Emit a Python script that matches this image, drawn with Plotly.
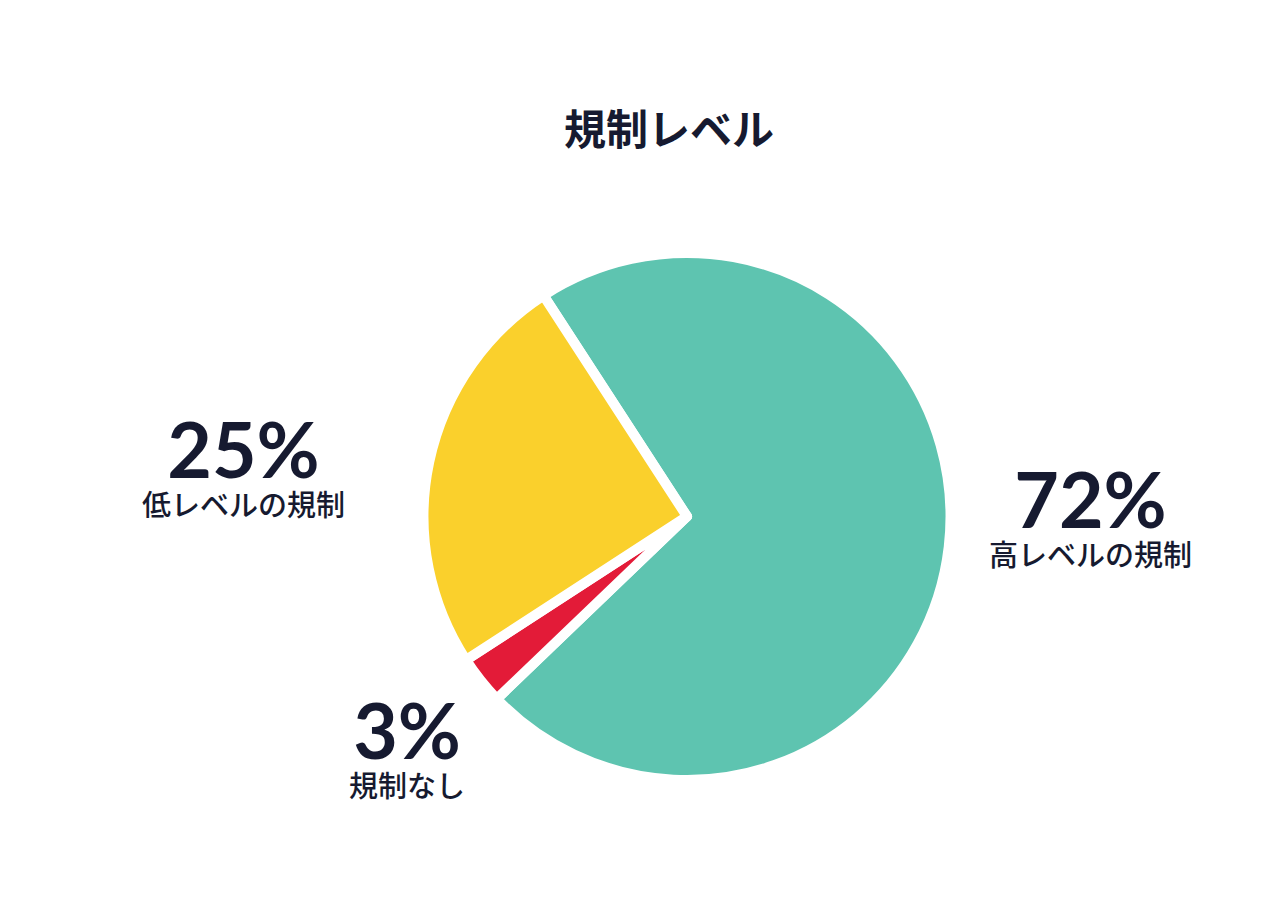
import plotly.graph_objects as go

# Data
labels = ["高レベルの規制", "規制なし", "低レベルの規制"]
values = [72, 3, 25]
colors = ["#5EC4B0", "#E31B38", "#FAD02C"]
title_text = "規制レベル"

W, H = 1280, 913
OFF = 8  # page body margin in the browser
TEXT = "#161a30"


def px(x, y):
    return (x - OFF) / W, 1 - (y - OFF) / H


fig = go.Figure()
cx, cy, r = 687, 516.5, 263.5
x0, y0 = px(cx - r, cy + r)
x1, y1 = px(cx + r, cy - r)
fig.add_trace(go.Pie(
    labels=labels,
    values=values,
    sort=False,
    direction="clockwise",
    rotation=-33,
    marker=dict(colors=colors, line=dict(color="white", width=10)),
    textinfo="none",
    hoverinfo="skip",
    showlegend=False,
    domain=dict(x=[x0, x1], y=[y0, y1]),
))

# label placement (pixel centres), one per slice in data order
label_pos = [(1090, 512), (407, 743), (243, 462)]

for lab, val, (lx, ly) in zip(labels, values, label_pos):
    ax, ay = px(lx, ly)
    fig.add_annotation(
        text=f"<span style='font-size:77px'><b>{val}%</b></span><br>{lab}",
        x=ax, y=ay, xref="paper", yref="paper",
        showarrow=False, xanchor="center", yanchor="middle", align="center",
        font=dict(family="Lato, Noto Sans CJK JP, sans-serif", size=29, color=TEXT, weight=500),
    )

tx, ty = px(669, 126)
fig.add_annotation(
    text=f"<b>{title_text}</b>", x=tx, y=ty, xref="paper", yref="paper",
    showarrow=False, xanchor="center", yanchor="middle",
    font=dict(family="Noto Sans CJK JP", size=42, color=TEXT),
)

fig.update_layout(
    width=W, height=H,
    margin=dict(l=0, r=0, t=0, b=0),
    paper_bgcolor="white", plot_bgcolor="white",
)

fig.write_html("out.html")
